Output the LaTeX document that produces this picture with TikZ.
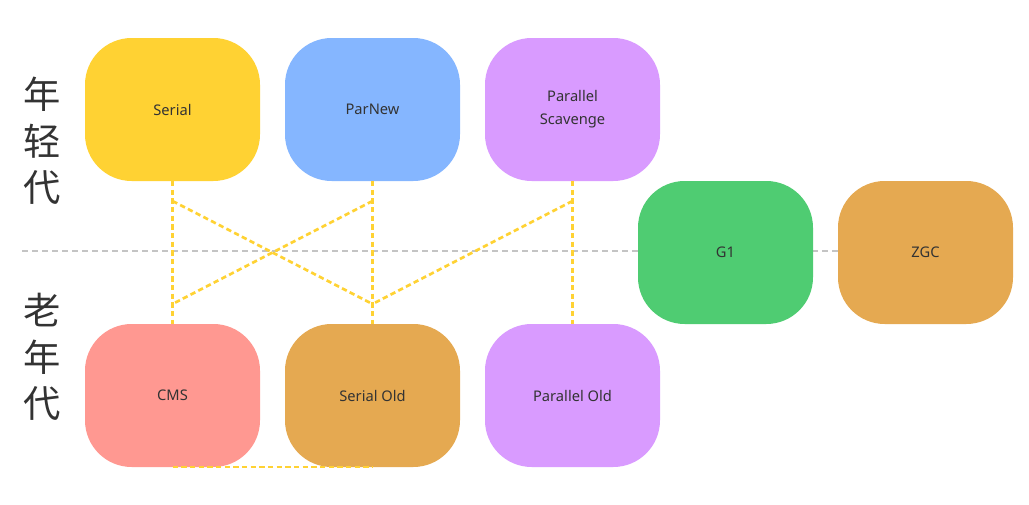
\documentclass[tikz,border=0pt]{standalone}
\usepackage{fontspec}
\setmainfont{Noto Sans}
\newfontfamily\cjk{Noto Sans CJK SC}
\usepackage{xcolor}
\definecolor{GcYellow} {HTML}{FFD233}
\definecolor{GcBlue}   {HTML}{85B6FF}
\definecolor{GcPurple} {HTML}{D99BFF}
\definecolor{GcRed}    {HTML}{FF9891}
\definecolor{GcOrange} {HTML}{E5A951}
\definecolor{GcGreen}  {HTML}{4FCC72}
\definecolor{GcText}   {HTML}{333333}
\definecolor{GcGray}   {HTML}{C4C4C4}
\usepackage{tikz}
\usetikzlibrary{positioning, backgrounds}

\begin{document}
\begin{tikzpicture}[
  x=0.75pt, y=-0.75pt,
  gc/.style={rounded corners=35pt, minimum width=131.25pt,
             minimum height=107.25pt, inner sep=0pt, outer sep=0pt,
             align=center, text=GcText, font=\fontsize{11}{17.5}\selectfont},
  gen/.style={text=GcText, align=center, inner sep=0pt,
              font=\cjk\fontsize{28}{35}\selectfont},
  link/.style={draw=GcYellow, line width=2pt, dash pattern=on 4pt off 2.5pt},
  divider/.style={draw=GcGray, line width=2pt, dash pattern=on 4.5pt off 3pt},
  node distance=107.25pt and 18.75pt
]
  \useasboundingbox (0,0) rectangle (1029,504);

  % young generation
  \node[gc, fill=GcYellow] (serial) at (172.5,109.5) {Serial};
  \node[gc, fill=GcBlue, right=of serial] (parnew) {ParNew};
  \node[gc, fill=GcPurple, right=of parnew] (pscav) {Parallel\\Scavenge};

  % old generation
  \node[gc, fill=GcRed, below=of serial] (cms) {CMS};
  \node[gc, fill=GcOrange, below=of parnew] (serialold) {Serial Old};
  \node[gc, fill=GcPurple, below=of pscav] (parold) {Parallel Old};

  % whole heap
  \node[gc, fill=GcGreen] (g1) at (725.5,252.5) {G1};
  \node[gc, fill=GcOrange, right=of g1] (zgc) {ZGC};

  \node[gen] (young) at (42,141) {年\\轻\\代};
  \node[gen] (old) at (42,357) {老\\年\\代};

  \coordinate (axisL) at (22,251);
  \begin{scope}[on background layer]
    \draw[divider] (axisL) -- (axisL -| zgc.west);
  \end{scope}

  \draw[link] (serial) -- (cms);
  \draw[link] (parnew) -- (serialold);
  \draw[link] (pscav) -- (parold);
  \draw[link] ([yshift=-15pt]serial.south) -- ([yshift=15pt]serialold.north);
  \draw[link] ([yshift=-15pt]parnew.south) -- ([yshift=15pt]cms.north);
  \draw[link] ([yshift=-15pt]pscav.south) -- ([yshift=15pt]serialold.north);
  \draw[link] (cms.south) -- (serialold.south);
\end{tikzpicture}
\end{document}
